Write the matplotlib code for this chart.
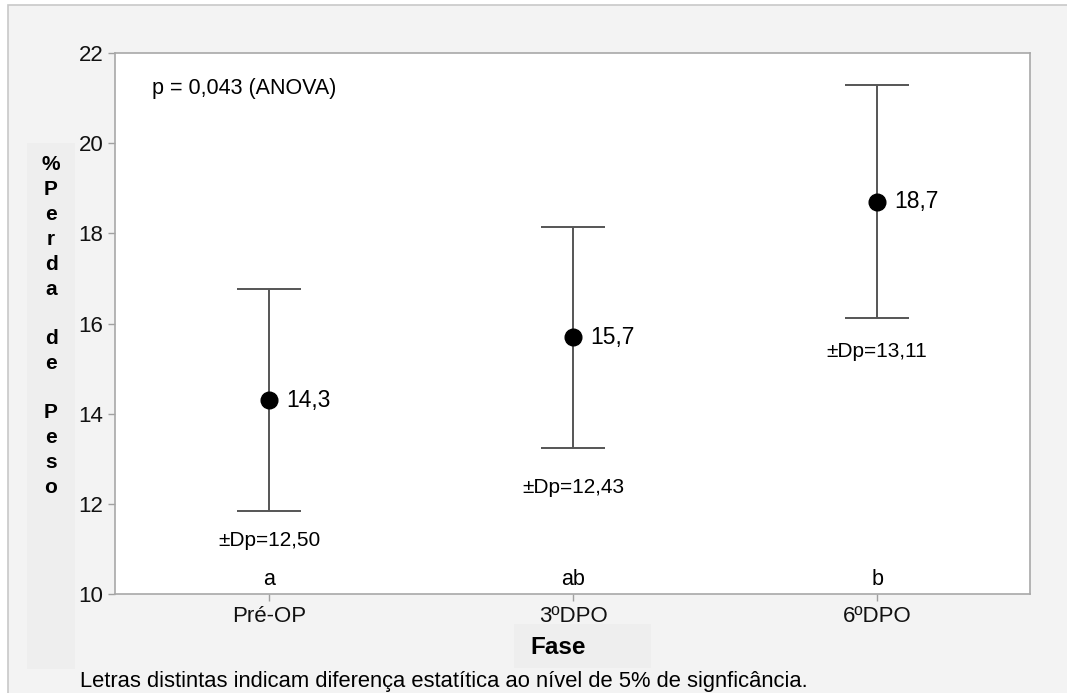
import matplotlib.pyplot as plt
import numpy as np
from matplotlib.patches import Rectangle

plt.rcParams['font.family'] = ['Liberation Sans', 'DejaVu Sans']

# dados
fases = ['Pré-OP', '3ºDPO', '6ºDPO']
medias = [14.3, 15.7, 18.7]
limite_inf = [11.83, 13.23, 16.12]
limite_sup = [16.76, 18.14, 21.30]
rotulos_media = ['14,3', '15,7', '18,7']
rotulos_dp = ['±Dp=12,50', '±Dp=12,43', '±Dp=13,11']
letras = ['a', 'ab', 'b']

W, H = 1067, 693
fig = plt.figure(figsize=(W / 100, H / 100), dpi=100)
fig.patch.set_facecolor('white')

# painel cinza de fundo
fig.patches.append(Rectangle((8 / W, -0.05), 1, 1.05 - 5 / H, transform=fig.transFigure,
                             facecolor='#f3f3f3', edgecolor='#c8c8c8', lw=1.2, zorder=-3))
# caixas dos rotulos
fig.patches.append(Rectangle((27 / W, 1 - 669 / H), 48 / W, 526 / H, transform=fig.transFigure,
                             facecolor='#eeeeee', edgecolor='none', zorder=-2))
fig.patches.append(Rectangle((514 / W, 1 - 668 / H), 137 / W, 44 / H, transform=fig.transFigure,
                             facecolor='#eeeeee', edgecolor='none', zorder=-2))

ax = fig.add_axes([115 / W, 1 - 594 / H, 915 / W, 541 / H])
ax.set_facecolor('white')

x = np.arange(len(fases))
medias = np.array(medias)
erro = [medias - np.array(limite_inf), np.array(limite_sup) - medias]
ax.errorbar(x, medias, yerr=erro, fmt='o', color='black', ms=12,
            ecolor='#555555', elinewidth=1.4, capsize=23, capthick=1.4)

desloc_dp = [21, 28, 24]  # pontos abaixo da barra
for i in range(len(fases)):
    ax.text(x[i] + 0.055, medias[i], rotulos_media[i], fontsize=16.5, va='center', ha='left')
    ax.annotate(rotulos_dp[i], (x[i], limite_inf[i]), xytext=(0, -desloc_dp[i]),
                textcoords='offset points', fontsize=15, va='center', ha='center')
    ax.text(x[i], 10.33, letras[i], fontsize=15.5, va='center', ha='center')

ax.text(0.04, 0.935, 'p = 0,043 (ANOVA)', transform=ax.transAxes, fontsize=15.5, va='center')

ax.set_xlim(-0.507, 2.503)
ax.set_ylim(10, 22)
ax.set_yticks(np.arange(10, 23, 2))
ax.set_xticks(x)
ax.set_xticklabels(fases)
ax.tick_params(labelsize=16, color='#a0a0a0', length=5, width=1, labelcolor='#111111')
for s in ax.spines.values():
    s.set_color('#a8a8a8')
    s.set_linewidth(1.2)

# rotulo vertical
rotulo_y = '%Perda de Peso'
for j, c in enumerate(rotulo_y):
    fig.text(51 / W, 1 - (165 + j * 24.8) / H, c, fontsize=15, fontweight='bold',
             ha='center', va='center')

fig.text(558 / W, 1 - 647 / H, 'Fase', fontsize=17.5, fontweight='bold', ha='center', va='center')
fig.text(80 / W, 1 - 682 / H, 'Letras distintas indicam diferença estatítica ao nível de 5% de signficância.',
         fontsize=15.8, ha='left', va='center')

plt.savefig('out.png', dpi=100)
